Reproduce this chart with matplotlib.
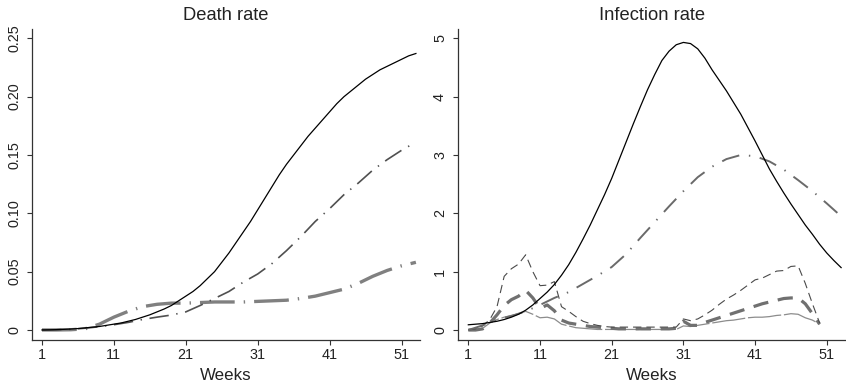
"""
plot.py - death rate and infection rate curves by week (two panels)
"""

import matplotlib
matplotlib.use("Agg")
import matplotlib.pyplot as plt

plt.rcParams.update({
    "font.family": ["Liberation Sans", "DejaVu Sans"],
    "figure.facecolor": "white",
    "axes.spines.top": False,
    "axes.spines.right": False,
    "lines.scale_dashes": False,
})

# week grids
weeks_odd = list(range(1, 54, 2))   # every 2 weeks, 1-53
weeks_full = list(range(1, 54))     # weekly, 1-53
weeks_all = list(range(1, 51))      # weekly, 1-50

# --- Death rate panel ---
death_solid = [0.000, 0.0001, 0.0003, 0.0005, 0.0008, 0.0012, 0.0018, 0.0024,
               0.003, 0.004, 0.005, 0.006, 0.0075, 0.009, 0.011, 0.013,
               0.0155, 0.018, 0.021, 0.025, 0.029, 0.033, 0.038, 0.044, 0.050,
               0.058, 0.066, 0.075, 0.084, 0.093, 0.103, 0.113, 0.123, 0.133,
               0.142, 0.150, 0.158, 0.166, 0.173, 0.180, 0.187, 0.194, 0.200,
               0.205, 0.210, 0.215, 0.219, 0.223, 0.226, 0.229, 0.232, 0.235,
               0.237]
death_dashdot = [0.000, 0.0002, 0.0006, 0.0015, 0.0028, 0.0045, 0.0065, 0.009,
                 0.011, 0.0128, 0.0155, 0.021, 0.027, 0.033, 0.041, 0.048,
                 0.057, 0.068, 0.080, 0.093, 0.104, 0.116, 0.126, 0.137,
                 0.146, 0.154, 0.161]
death_thick = [0.000, 0.000, 0.0002, 0.001, 0.005, 0.011, 0.016, 0.020, 0.022,
               0.023, 0.023, 0.0235, 0.024, 0.024, 0.024, 0.0245, 0.025,
               0.0255, 0.027, 0.029, 0.032, 0.035, 0.040, 0.046, 0.051,
               0.055, 0.058]

# --- Infection rate panel ---
inf_solid = [0.09, 0.10, 0.11, 0.13, 0.15, 0.18, 0.22, 0.27, 0.34, 0.43, 0.54,
             0.65, 0.78, 0.94, 1.12, 1.33, 1.56, 1.80, 2.06, 2.32, 2.60, 2.91,
             3.22, 3.53, 3.83, 4.12, 4.38, 4.62, 4.78, 4.89, 4.93, 4.91, 4.82,
             4.66, 4.46, 4.28, 4.10, 3.90, 3.70, 3.47, 3.24, 3.00, 2.76, 2.55,
             2.35, 2.16, 1.98, 1.80, 1.64, 1.47, 1.32, 1.19, 1.07]
inf_dashdot = [0.00, 0.08, 0.18, 0.24, 0.32, 0.43, 0.55, 0.65, 0.79, 0.93,
               1.08, 1.30, 1.58, 1.85, 2.12, 2.38, 2.62, 2.80, 2.93, 3.00,
               2.98, 2.89, 2.75, 2.57, 2.38, 2.17, 1.95]
inf_thin_dash = [0.00, 0.02, 0.07, 0.18, 0.40, 0.92, 1.05, 1.13, 1.29, 1.00,
                 0.76, 0.77, 0.83, 0.40, 0.32, 0.23, 0.15, 0.11, 0.08, 0.06,
                 0.05, 0.05, 0.05, 0.05, 0.05, 0.05, 0.05, 0.05, 0.05, 0.05,
                 0.19, 0.16, 0.19, 0.26, 0.34, 0.44, 0.53, 0.60, 0.68, 0.77,
                 0.86, 0.89, 0.95, 1.01, 1.02, 1.09, 1.10, 0.80, 0.45, 0.12]
inf_thick_dash = [0.00, 0.00, 0.02, 0.12, 0.26, 0.42, 0.52, 0.58, 0.68, 0.55,
                  0.37, 0.43, 0.33, 0.17, 0.12, 0.10, 0.08, 0.06, 0.05, 0.04,
                  0.03, 0.02, 0.02, 0.02, 0.02, 0.02, 0.02, 0.02, 0.02, 0.03,
                  0.15, 0.08, 0.08, 0.13, 0.17, 0.21, 0.25, 0.29, 0.33, 0.37,
                  0.41, 0.45, 0.48, 0.51, 0.54, 0.55, 0.55, 0.45, 0.28, 0.10]
inf_thin_gray = [0.00, 0.00, 0.03, 0.12, 0.18, 0.22, 0.25, 0.28, 0.32, 0.27,
                 0.21, 0.22, 0.19, 0.10, 0.07, 0.04, 0.03, 0.02, 0.01, 0.01,
                 0.01, 0.01, 0.01, 0.01, 0.01, 0.01, 0.01, 0.01, 0.01, 0.01,
                 0.07, 0.06, 0.08, 0.10, 0.12, 0.14, 0.16, 0.17, 0.19, 0.21,
                 0.22, 0.22, 0.23, 0.25, 0.26, 0.28, 0.27, 0.21, 0.17, 0.10]

x_ticks = [1, 11, 21, 31, 41, 51]
death_yticks = [0, 0.05, 0.10, 0.15, 0.20, 0.25]
death_ylabels = ["0", "0.05", "0.10", "0.15", "0.20", "0.25"]
inf_yticks = [0, 1, 2, 3, 4, 5]


def style_axes(ax, title):
    """Stata-like axis styling: left/bottom spines, rotated y labels."""
    for side in ("left", "bottom"):
        ax.spines[side].set_color("#333333")
        ax.spines[side].set_linewidth(0.9)
    ax.tick_params(axis="both", direction="out", length=3.6, width=0.8,
                   color="#333333", labelsize=10.4, labelcolor="#222222")
    ax.tick_params(axis="x", pad=2.2)
    ax.tick_params(axis="y", pad=4.3, labelrotation=90)
    for lab in ax.get_yticklabels():
        lab.set_va("center")
    ax.set_xticks(x_ticks)
    ax.set_xlabel("Weeks", fontsize=12.2, labelpad=4.5, color="#222222")
    ax.set_title(title, fontsize=13.2, pad=6.5, color="#222222")


fig = plt.figure(figsize=(8.46, 3.91), dpi=100)
ax1 = fig.add_axes([32 / 846, 51 / 391, 388 / 846, 311 / 391])
ax2 = fig.add_axes([458 / 846, 51 / 391, 388 / 846, 311 / 391])

# Death rate
ax1.plot(weeks_odd, death_thick, color="#808080", lw=2.4,
         dashes=(25, 6.5, 1, 6.5))
ax1.plot(weeks_odd, death_dashdot, color="#505050", lw=1.2,
         dashes=(14, 5.5, 1, 5.5))
ax1.plot(weeks_full, death_solid, color="black", lw=0.9)
ax1.set_xlim(-0.39, 53.57)
ax1.set_ylim(-0.0086, 0.258)
ax1.set_yticks(death_yticks)
ax1.set_yticklabels(death_ylabels)
style_axes(ax1, "Death rate")

# Infection rate
ax2.plot(weeks_all, inf_thin_gray, color="#8c8c8c", lw=0.9, dashes=(24, 2))
ax2.plot(weeks_all, inf_thick_dash, color="#707070", lw=2.3, dashes=(11, 7))
ax2.plot(weeks_all, inf_thin_dash, color="#4a4a4a", lw=0.8, dashes=(6, 3.6))
ax2.plot(weeks_odd, inf_dashdot, color="#6a6a6a", lw=1.4,
         dashes=(13, 7, 1, 7))
ax2.plot(weeks_full, inf_solid, color="black", lw=0.9)
ax2.set_xlim(-0.44, 53.68)
ax2.set_ylim(-0.171, 5.16)
ax2.set_yticks(inf_yticks)
style_axes(ax2, "Infection rate")

fig.savefig("out.png", dpi=100)
plt.close(fig)
